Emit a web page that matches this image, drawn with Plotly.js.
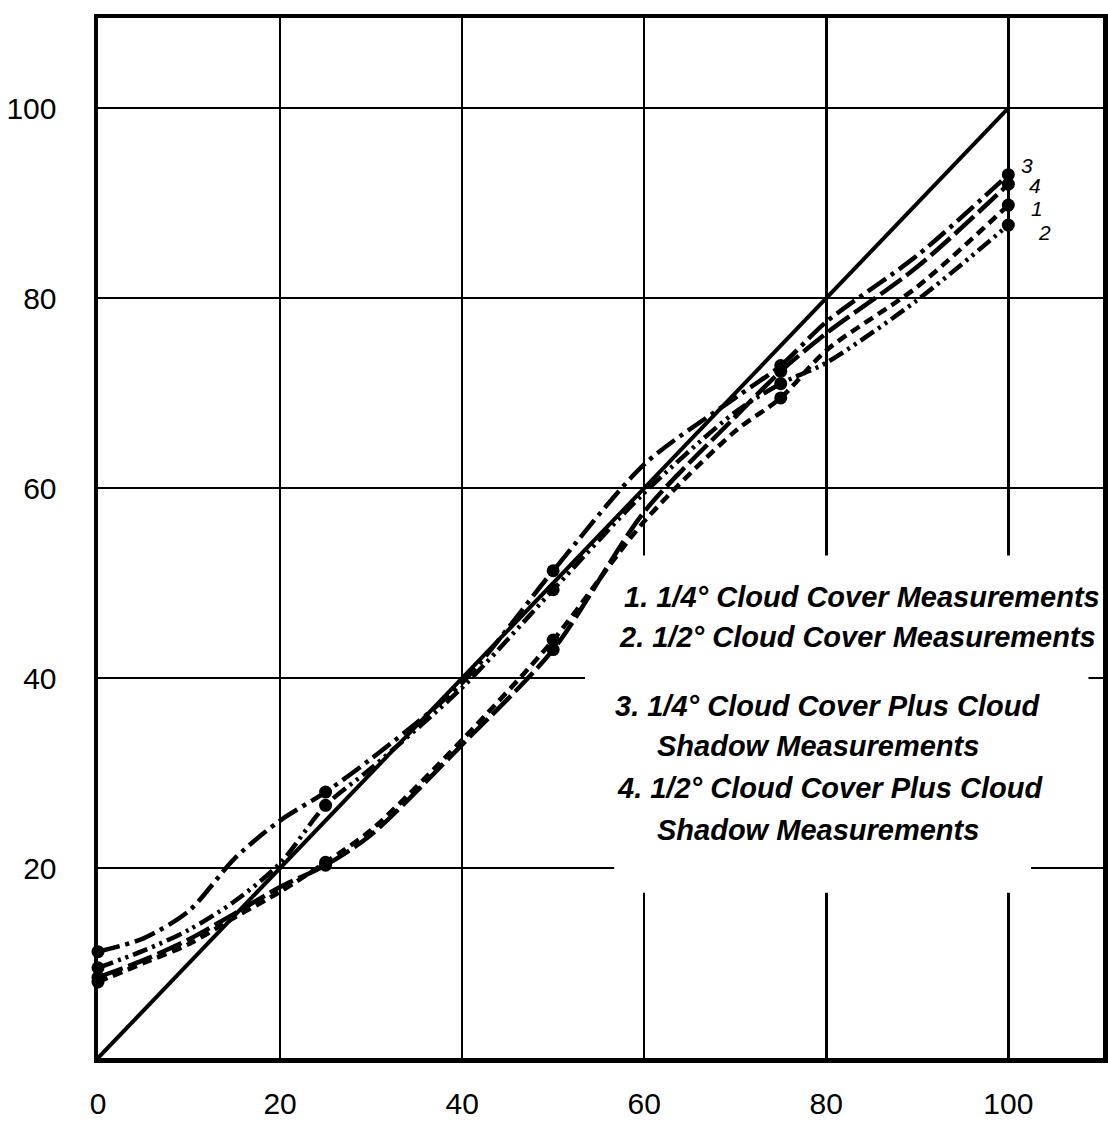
<!DOCTYPE html>
<html>
<head>
<meta charset="utf-8">
<script src="https://cdn.plot.ly/plotly-3.0.1.min.js"></script>
<style>
  html, body { margin: 0; padding: 0; background: #fff; }
  #chart { width: 1108px; height: 1130px; }
</style>
</head>
<body>
<div id="chart"></div>
<script>
// Sample positions along each hand-faired curve
const curveX = [0, 5, 10, 15, 20, 25, 30, 40, 50, 60, 70, 75, 80, 90, 100];

// Measured points sit at these abscissae
const measuredX = [0, 25, 50, 75, 100];

// 1. 1/4 degree cloud cover measurements
const cover14 = [8.0, 10.0, 12.0, 14.8, 17.5, 20.6, 24.0, 33.5, 44.0, 56.5, 66.0, 69.5, 74.5, 81.2, 89.8];
// 2. 1/2 degree cloud cover measurements
const cover12 = [9.5, 11.3, 13.5, 16.5, 20.5, 26.6, 30.5, 39.0, 49.3, 59.5, 68.0, 71.0, 73.2, 79.8, 87.7];
// 3. 1/4 degree cloud cover plus cloud shadow measurements
const shadow14 = [11.2, 12.6, 15.5, 21.0, 25.0, 28.0, 31.5, 39.5, 51.3, 62.5, 69.5, 72.9, 77.5, 84.5, 93.0];
// 4. 1/2 degree cloud cover plus cloud shadow measurements
const shadow12 = [8.5, 10.3, 12.5, 15.2, 18.0, 20.3, 23.5, 33.0, 43.0, 57.5, 67.5, 72.3, 76.3, 83.3, 92.0];

// Line of equality
const equalX = [0, 100];
const equalY = [0, 100];

const xTicks = [0, 20, 40, 60, 80, 100];
const yTicks = [20, 40, 60, 80, 100];

const legendLines = [
  "1. 1/4° Cloud Cover Measurements",
  "2. 1/2° Cloud Cover Measurements",
  "3. 1/4° Cloud Cover Plus Cloud",
  "Shadow Measurements",
  "4. 1/2° Cloud Cover Plus Cloud",
  "Shadow Measurements"
];
const endLabels = ["3", "4", "1", "2"];

const series = [
  { y: cover14,  dash: "10px,6px" },
  { y: cover12,  dash: "16px,5px,3px,5px,3px,5px" },
  { y: shadow14, dash: "22px,6px,4px,6px" },
  { y: shadow12, dash: "26px,6px" }
];

const traces = [];
traces.push({
  x: equalX, y: equalY, mode: "lines", type: "scatter",
  line: { color: "#000", width: 4 }, hoverinfo: "skip", showlegend: false
});
series.forEach(s => {
  traces.push({
    x: curveX, y: s.y, mode: "lines", type: "scatter",
    line: { color: "#000", width: 4.5, dash: s.dash, shape: "spline", smoothing: 0.8 },
    showlegend: false, cliponaxis: false
  });
  const mx = [], my = [];
  curveX.forEach((xv, i) => {
    if (measuredX.includes(xv)) { mx.push(xv); my.push(s.y[i]); }
  });
  traces.push({
    x: mx, y: my, mode: "markers", type: "scatter",
    marker: { color: "#000", size: 13 },
    showlegend: false, cliponaxis: false
  });
});

const legendFont = { family: "Liberation Sans, Arial, sans-serif", size: 29, color: "#000", style: "italic", weight: "bold" };
const legendPos = [
  [57.6, 48.5], [57.0, 44.3], [56.6, 37.1], [61.2, 32.8], [56.8, 28.4], [61.2, 24.0]
];
const annotations = legendLines.map((t, i) => ({
  x: legendPos[i][0], y: legendPos[i][1], xref: "x", yref: "y",
  text: t, showarrow: false, xanchor: "left", yanchor: "middle", font: legendFont
}));
const endPos = [[102.0, 94.0], [102.9, 91.9], [103.1, 89.4], [104.0, 86.9]];
endLabels.forEach((t, i) => {
  annotations.push({
    x: endPos[i][0], y: endPos[i][1], xref: "x", yref: "y", text: t, showarrow: false,
    font: { family: "Liberation Sans, Arial, sans-serif", size: 21, color: "#000", style: "italic" }
  });
});

const tickFont = { family: "Liberation Sans, Arial, sans-serif", size: 30, color: "#000" };

const layout = {
  width: 1108, height: 1130,
  margin: { l: 98, r: 5, t: 18, b: 72 },
  paper_bgcolor: "#fff", plot_bgcolor: "#fff",
  showlegend: false,
  xaxis: {
    range: [0, 110.4], tickvals: xTicks, ticktext: xTicks.map(String),
    showgrid: true, gridcolor: "#000", gridwidth: 2.5, zeroline: false,
    showline: true, linecolor: "#000", linewidth: 4.5, mirror: true,
    ticks: "", tickfont: tickFont, ticklabelstandoff: 15
  },
  yaxis: {
    range: [0, 109.5], tickvals: yTicks, ticktext: yTicks.map(String),
    showgrid: true, gridcolor: "#000", gridwidth: 2.5, zeroline: false,
    showline: true, linecolor: "#000", linewidth: 4.5, mirror: true,
    ticks: "", tickfont: tickFont, ticklabelstandoff: 31
  },
  // blank panel behind the key text, interrupting the grid
  shapes: [
    { type: "rect", xref: "x", yref: "y", x0: 53.5, x1: 108.8, y0: 21.9, y1: 52.9,
      fillcolor: "#fff", line: { width: 0 }, layer: "between" },
    { type: "rect", xref: "x", yref: "y", x0: 56.7, x1: 102.5, y0: 17.4, y1: 22.0,
      fillcolor: "#fff", line: { width: 0 }, layer: "between" }
  ],
  annotations: annotations
};

Plotly.newPlot("chart", traces, layout, { staticPlot: true, displayModeBar: false });
</script>
</body>
</html>
